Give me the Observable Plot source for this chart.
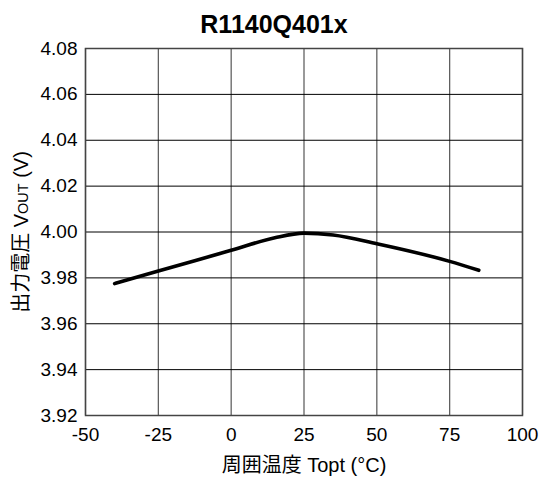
<!DOCTYPE html>
<html>
<head>
<meta charset="utf-8">
<script src="https://cdn.jsdelivr.net/npm/d3@7"></script>
<script src="https://cdn.jsdelivr.net/npm/@observablehq/plot@0.6"></script>
<style>
  body { margin: 0; background: #fff; font-family: "Liberation Sans", Arial, "Noto Sans CJK JP", sans-serif; }
  #title { width: 540px; height: 30px; box-sizing: border-box; padding-top: 12px; padding-left: 8px;
           text-align: center; font-weight: bold; font-size: 25px; line-height: 25px; color: #000; overflow: visible; }
</style>
</head>
<body>
<div id="title">R1140Q401x</div>
<div id="chart"></div>
<script>
// Data
const temperature = [-40, -25, 0, 15, 25, 35, 50, 75, 85];
const vout = [3.9775, 3.983, 3.992, 3.9975, 3.9995, 3.9987, 3.9949, 3.9872, 3.9833];
const xTicks = [-50, -25, 0, 25, 50, 75, 100];
const yTicks = [3.92, 3.94, 3.96, 3.98, 4.00, 4.02, 4.04, 4.06, 4.08];
const xLabelText = "周囲温度 Topt (°C)";
const yLabelParts = ["出力電圧 V", "OUT", " (V)"];

const data = temperature.map((t, i) => ({t, v: vout[i]}));

const plot = Plot.plot({
  width: 540,
  height: 452,
  marginTop: 18,
  marginBottom: 67,
  marginLeft: 85,
  marginRight: 18,
  style: {fontFamily: '"Liberation Sans", Arial, "Noto Sans CJK JP", sans-serif', fontSize: "19px", color: "#000", background: "#fff"},
  x: {domain: [-50, 100], ticks: xTicks, tickFormat: d => String(d), label: null},
  y: {domain: [3.92, 4.08], ticks: yTicks, tickFormat: d3.format(".2f"), label: null},
  marks: [
    Plot.gridX(xTicks, {stroke: "#555", strokeOpacity: 1, strokeWidth: 1.2}),
    Plot.gridY(yTicks, {stroke: "#000", strokeOpacity: 1, strokeWidth: 1}),
    Plot.frame({stroke: "#444", strokeWidth: 1.5}),
    Plot.axisX(xTicks, {tickSize: 0, tickPadding: 12, tickFormat: d => String(d), fontSize: 19, label: null}),
    Plot.axisY(yTicks, {tickSize: 0, tickPadding: 8, tickFormat: d3.format(".2f"), fontSize: 19, label: null}),
    Plot.line(data, {x: "t", y: "v", stroke: "#000", strokeWidth: 3.6, curve: "monotone-x", strokeLinecap: "round"})
  ]
});

const svg = d3.select(plot);
svg.append("text")
  .attr("x", 304).attr("y", 442)
  .attr("text-anchor", "middle")
  .attr("font-size", 20)
  .attr("fill", "#000")
  .text(xLabelText);

const yl = svg.append("text")
  .attr("transform", "translate(28,202) rotate(-90)")
  .attr("text-anchor", "middle")
  .attr("font-size", 20)
  .attr("fill", "#000");
yl.append("tspan").text(yLabelParts[0]);
yl.append("tspan").attr("font-size", 14.5).text(yLabelParts[1]);
yl.append("tspan").text(yLabelParts[2]);

document.getElementById("chart").appendChild(plot);
</script>
</body>
</html>
